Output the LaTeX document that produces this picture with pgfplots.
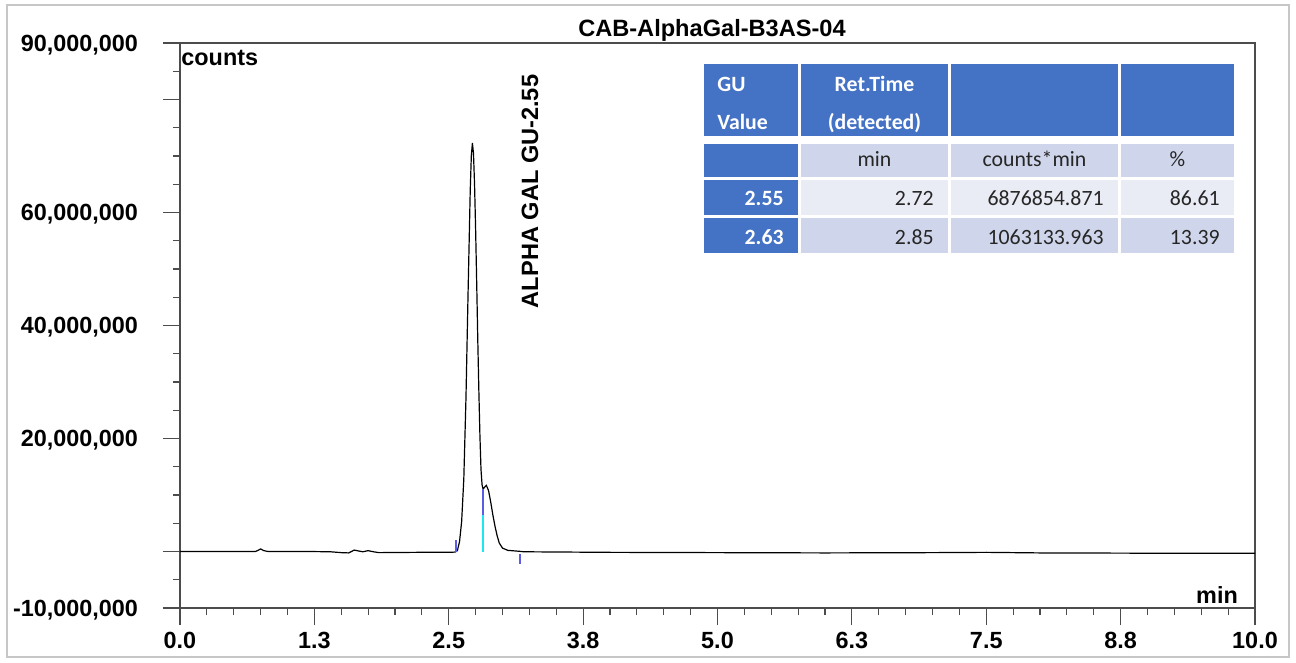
\documentclass[border=0pt]{standalone}
\usepackage{pgfplots}
\pgfplotsset{compat=1.18}
\usepackage{fontspec}
\setmainfont{Liberation Sans}
\newfontfamily\calib{Carlito}
\definecolor{hdr}{HTML}{4472C4}
\definecolor{rowA}{HTML}{CFD5EA}
\definecolor{rowB}{HTML}{E9EBF5}
\definecolor{mk}{HTML}{5B5BE6}
\definecolor{cy}{HTML}{1EE6F0}
\definecolor{txt}{HTML}{262626}
\begin{document}
\begin{tikzpicture}
\useasboundingbox (0,0) rectangle (648pt,-331.5pt);
\draw[black!22, line width=0.6pt] (3.5pt,-2.5pt) rectangle (644.5pt,-328.5pt);
\begin{axis}[
  at={(90pt,-304pt)}, anchor=south west,
  scale only axis, width=537.5pt, height=282.5pt,
  xmin=0, xmax=10, ymin=-10000000, ymax=90000000,
  xtick={0,1.25,2.5,3.75,5,6.25,7.5,8.75,10},
  xticklabels={0.0,1.3,2.5,3.8,5.0,6.3,7.5,8.8,10.0},
  minor x tick num=4,
  ytick={-10000000,0,20000000,40000000,60000000,80000000,90000000},
  yticklabels={{-10,000,000},{},{20,000,000},{40,000,000},{60,000,000},{},{90,000,000}},
  minor ytick={-5000000,5000000,10000000,15000000,25000000,30000000,35000000,45000000,50000000,55000000,65000000,70000000,75000000,85000000},
  tick align=outside, xtick pos=bottom, ytick pos=left,
  major tick length=8.5pt, minor tick length=3.5pt,
  tick style={black!70, line width=0.6pt},
  axis line style={black!70, line width=0.7pt},
  scaled y ticks=false, scaled x ticks=false,
  /pgf/number format/assume math mode=true,
  ticklabel style={font=\fontsize{11.7}{14}\selectfont\bfseries},
  yticklabel style={xshift=-9pt, yshift=-1pt},
  clip=false,
]
\addplot[black, line width=0.6pt] coordinates {
(0.00,0) (0.50,0) (0.70,0) (0.72,150000) (0.75,450000) (0.78,150000) (0.82,0)
(1.20,0) (1.40,-50000) (1.50,-200000) (1.57,-250000) (1.62,250000) (1.66,100000)
(1.70,-50000) (1.75,150000) (1.80,-50000) (1.85,-200000) (2.20,-150000) (2.50,-150000)
(2.56,-100000) (2.58,150000) (2.60,1700000) (2.62,5300000) (2.64,12800000)
(2.66,27000000) (2.68,46000000) (2.70,64000000) (2.71,70000000) (2.72,72300000)
(2.73,70500000) (2.74,65000000) (2.75,57000000) (2.76,47500000) (2.77,37500000)
(2.78,28500000) (2.79,20500000) (2.80,14500000) (2.81,11800000) (2.82,11000000)
(2.83,11300000) (2.85,11700000) (2.87,10800000) (2.89,8800000) (2.91,6500000)
(2.93,4500000) (2.95,2800000) (2.97,1500000) (3.00,600000) (3.05,200000)
(3.15,50000) (3.20,-50000) (4.00,-150000) (5.00,-200000) (6.00,-250000)
(7.00,-200000) (7.50,-150000) (8.00,-250000) (9.00,-300000) (10.00,-300000)
};
\addplot[mk, line width=1pt, forget plot] coordinates {(2.57,0) (2.57,2000000)};
\addplot[mk, line width=1pt, forget plot] coordinates {(3.16,-400000) (3.16,-2200000)};
\addplot[cy, line width=1pt, forget plot] coordinates {(2.82,0) (2.82,6500000)};
\addplot[mk, line width=1pt, forget plot] coordinates {(2.82,6500000) (2.82,11000000)};
\node[rotate=90, anchor=west, inner sep=0pt, font=\fontsize{11.8}{14}\selectfont\bfseries] at (axis cs:3.256,43000000) {ALPHA GAL GU-2.55};
\end{axis}
\node[font=\fontsize{11.8}{14}\selectfont\bfseries] at (356pt,-15pt) {CAB-AlphaGal-B3AS-04};
\node[anchor=west, inner sep=0pt, font=\fontsize{11.7}{14}\selectfont\bfseries] at (90.5pt,-29pt) {counts};
\node[font=\fontsize{11.7}{14}\selectfont\bfseries] at (608.5pt,-297.5pt) {min};
% table
\fill[hdr] (352pt,-32pt) rectangle (399pt,-68pt);
\fill[hdr] (400.5pt,-32pt) rectangle (474pt,-68pt);
\fill[hdr] (475.5pt,-32pt) rectangle (559pt,-68pt);
\fill[hdr] (560.5pt,-32pt) rectangle (617pt,-68pt);
\fill[hdr] (352pt,-72pt) rectangle (399pt,-88.5pt);
\fill[rowA] (400.5pt,-72pt) rectangle (474pt,-88.5pt);
\fill[rowA] (475.5pt,-72pt) rectangle (559pt,-88.5pt);
\fill[rowA] (560.5pt,-72pt) rectangle (617pt,-88.5pt);
\fill[hdr] (352pt,-90pt) rectangle (399pt,-107.5pt);
\fill[rowB] (400.5pt,-90pt) rectangle (474pt,-107.5pt);
\fill[rowB] (475.5pt,-90pt) rectangle (559pt,-107.5pt);
\fill[rowB] (560.5pt,-90pt) rectangle (617pt,-107.5pt);
\fill[hdr] (352pt,-109pt) rectangle (399pt,-126.5pt);
\fill[rowA] (400.5pt,-109pt) rectangle (474pt,-126.5pt);
\fill[rowA] (475.5pt,-109pt) rectangle (559pt,-126.5pt);
\fill[rowA] (560.5pt,-109pt) rectangle (617pt,-126.5pt);
\begin{scope}[every node/.style={inner sep=0pt, font=\calib\fontsize{10.9}{13}\selectfont}]
\node[anchor=base west, white, font=\calib\fontsize{10.9}{13}\selectfont\bfseries] at (358.5pt,-46pt) {GU};
\node[anchor=base west, white, font=\calib\fontsize{10.9}{13}\selectfont\bfseries] at (358.5pt,-65pt) {Value};
\node[anchor=base, white, font=\calib\fontsize{10.9}{13}\selectfont\bfseries] at (437.25pt,-46pt) {Ret.Time};
\node[anchor=base, white, font=\calib\fontsize{10.9}{13}\selectfont\bfseries] at (437.25pt,-65pt) {(detected)};
\node[anchor=base, txt] at (437.25pt,-83.5pt) {min};
\node[anchor=base, txt] at (517.25pt,-83.5pt) {counts*min};
\node[anchor=base, txt] at (588.75pt,-83.5pt) {\%};
\node[anchor=base east, white, font=\calib\fontsize{10.9}{13}\selectfont\bfseries] at (392pt,-103pt) {2.55};
\node[anchor=base east, txt] at (467pt,-103pt) {2.72};
\node[anchor=base east, txt] at (552pt,-103pt) {6876854.871};
\node[anchor=base east, txt] at (610pt,-103pt) {86.61};
\node[anchor=base east, white, font=\calib\fontsize{10.9}{13}\selectfont\bfseries] at (392pt,-122.5pt) {2.63};
\node[anchor=base east, txt] at (467pt,-122.5pt) {2.85};
\node[anchor=base east, txt] at (552pt,-122.5pt) {1063133.963};
\node[anchor=base east, txt] at (610pt,-122.5pt) {13.39};
\end{scope}
\end{tikzpicture}
\end{document}
